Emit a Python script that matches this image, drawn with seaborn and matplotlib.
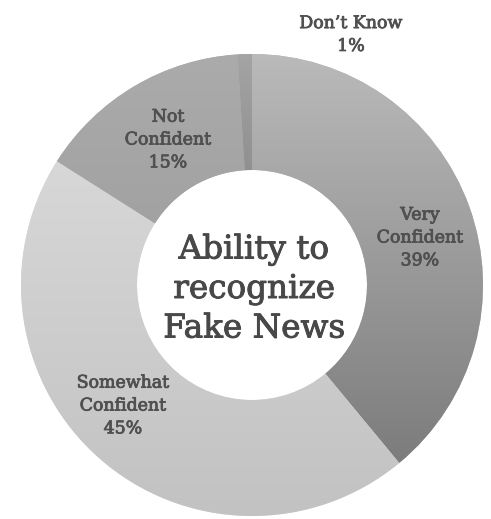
import numpy as np
import matplotlib
matplotlib.use("Agg")
import matplotlib.pyplot as plt
import matplotlib.patheffects as pe
import seaborn as sns
from matplotlib.colors import LinearSegmentedColormap

# ---- data ----
categories = ["Very\nConfident", "Somewhat\nConfident", "Not\nConfident", "Don\u2019t Know"]
values = [39, 45, 15, 1]
center_title = "Ability to\nrecognize\nFake News"

# ---- style ----
sns.set_theme(style="white")
plt.rcParams["font.family"] = ["DejaVu Serif"]

W, H = 491, 519
fig = plt.figure(figsize=(W / 100, H / 100), dpi=100)
ax = fig.add_axes([0, 0, 1, 1])

cx, cy = 252, H - 285
R = 231
ring = 116

# gradients (top colour, bottom colour) per slice
grads = [("#bababa", "#747474"), ("#dedede", "#c2c2c2"),
         ("#ababab", "#929292"), ("#a4a4a4", "#555555")]

wedges, _ = ax.pie(values, startangle=90, counterclock=False, radius=R,
                   center=(cx, cy), colors=[g[0] for g in grads],
                   wedgeprops=dict(width=ring, linewidth=0))

for w, (c1, c2) in zip(wedges, grads):
    cmap = LinearSegmentedColormap.from_list("g", [c2, c1])
    grad = np.linspace(0, 1, 256).reshape(-1, 1)
    im = ax.imshow(grad, cmap=cmap, origin="lower", aspect="auto",
                   extent=(cx - R, cx + R, cy - R, cy + R), zorder=2)
    im.set_clip_path(w)

ax.set_xlim(0, W)
ax.set_ylim(0, H)
ax.set_aspect("equal")
ax.axis("off")

# label positions in pixel coords (x, y from top)
label_pos = [(420, 238), (123, 406), (168, 140), (351, 35)]
txt_col = "#505050"
for i, (lab, v, (x, y)) in enumerate(zip(categories, values, label_pos)):
    ax.text(x, H - y, f"{lab}\n{v}%", ha="center", va="center",
            fontsize=12.5, color=txt_col, linespacing=1.45, zorder=5,
            path_effects=[pe.withStroke(linewidth=0.6, foreground=txt_col)])

ax.text(cx + 2, H - 289, center_title, ha="center", va="center",
        fontsize=23.5, color="#484848", linespacing=1.3, zorder=5,
        path_effects=[pe.withStroke(linewidth=0.7, foreground="#484848")])

fig.savefig("out.png", dpi=100)
